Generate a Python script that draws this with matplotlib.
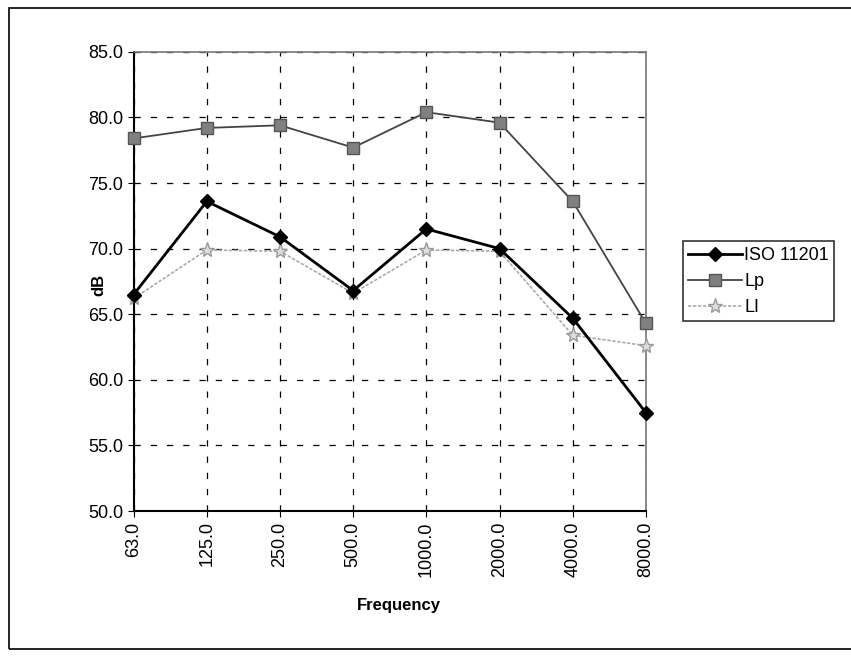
import numpy as np
import matplotlib.pyplot as plt
from matplotlib.patches import Rectangle

plt.rcParams['font.family'] = ['Liberation Sans', 'DejaVu Sans']

freqs = ['63.0', '125.0', '250.0', '500.0', '1000.0', '2000.0', '4000.0', '8000.0']
iso = [66.5, 73.6, 70.9, 66.8, 71.5, 70.0, 64.7, 57.5]
lp = [78.4, 79.2, 79.4, 77.7, 80.4, 79.6, 73.6, 64.3]
li = [66.2, 69.9, 69.8, 66.6, 69.9, 69.8, 63.4, 62.6]

fig = plt.figure(figsize=(8.51, 6.56), dpi=100)
ax = fig.add_axes([0.157, 0.221, 0.602, 0.700])

x = np.arange(len(freqs))
ax.plot(x, iso, color='black', lw=2, marker='D', ms=7, mfc='black', mec='black',
        label='ISO 11201', clip_on=False, zorder=5)
ax.plot(x, lp, color='#444444', lw=1.3, marker='s', ms=9, mfc='#808080', mec='#555555',
        label='Lp', clip_on=False, zorder=4)
ax.plot(x, li, color='#aaaaaa', lw=1.2, ls=(0, (2, 1)), marker='*', ms=11, mfc='#dddddd',
        mec='#999999', label='LI', clip_on=False, zorder=3)

ax.set_xlim(0, len(freqs) - 1)
ax.set_ylim(50, 85)
ax.set_yticks(np.arange(50, 86, 5))
ax.set_yticklabels(['%.1f' % v for v in np.arange(50, 86, 5)], fontsize=13)
ax.set_xticks(x)
ax.set_xticklabels(freqs, rotation=90, fontsize=13)
ax.grid(True, color='black', ls=(0, (5, 8)), lw=0.9)
ax.set_axisbelow(True)

ax.set_xlabel('Frequency', fontsize=12, fontweight='bold')
ax.set_ylabel('dB', fontsize=12, fontweight='bold')
ax.xaxis.set_label_coords(0.518, -0.19)
ax.yaxis.set_label_coords(-0.053, 0.492)

for s in ['left', 'bottom']:
    ax.spines[s].set_color('black')
    ax.spines[s].set_linewidth(1.5)
for s in ['top', 'right']:
    ax.spines[s].set_color('#777777')
    ax.spines[s].set_linewidth(1.2)
ax.tick_params(axis='both', direction='out', length=4, color='black')

leg = ax.legend(loc='center left', bbox_to_anchor=(1.072, 0.5), frameon=True, fancybox=False,
                edgecolor='black', fontsize=13, handlelength=3.0, borderpad=0.3,
                labelspacing=0.5, handletextpad=0.1, borderaxespad=0)
leg.get_frame().set_linewidth(1.2)

fig.patches.append(Rectangle((0.01, 0.01), 1.2, 0.978, transform=fig.transFigure,
                             fill=False, ec='black', lw=1.2))

fig.savefig('out.png', dpi=100)
